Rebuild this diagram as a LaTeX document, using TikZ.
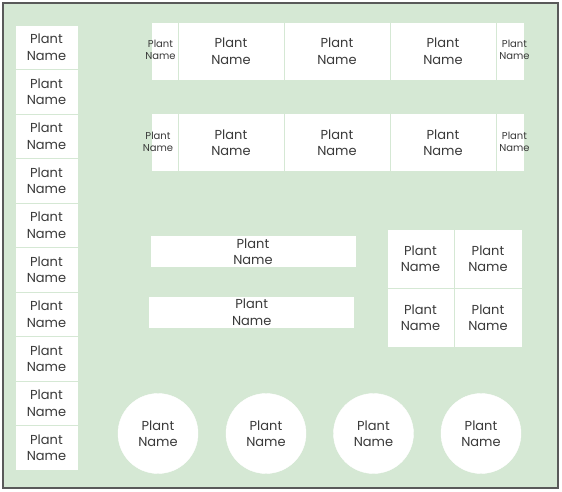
\documentclass[tikz,border=0pt]{standalone}
\usepackage{fontspec}
\setmainfont{Poppins}
\definecolor{bedgreen}{HTML}{D5E8D4}
\definecolor{framegray}{HTML}{595959}
\definecolor{txtgray}{HTML}{3A3A3A}
\begin{document}
\begin{tikzpicture}[x=1pt,y=-1pt,
  cell/.style={rectangle, draw=bedgreen, fill=white, line width=0.8pt, inner sep=0pt},
  lbl/.style={align=center, inner sep=0pt, text=txtgray, font=\fontsize{13}{16.5}\selectfont},
  slbl/.style={align=center, inner sep=0pt, text=txtgray, font=\fontsize{10}{12.5}\selectfont},
  pot/.style={circle, fill=white, draw=white, minimum size=80pt, inner sep=0pt}]
\useasboundingbox (0,0) rectangle (562,491);
\node[rectangle, draw=framegray, fill=bedgreen, line width=2.5pt, minimum width=555pt, minimum height=485pt, inner sep=0pt] (garden) at (280.5,245.5) {};
% left column
\foreach \i in {0,...,9}{
  \node[cell, lbl, minimum width=63pt, minimum height=44.5pt] (L\i) at (46.5,{47.25+44.5*\i}) {Plant\\Name};
}
% top rows
\foreach \r/\y in {1/51, 2/142.5}{
  \node[cell, minimum width=27pt, minimum height=58pt] (R\r a) at (164.5,\y) {};
  \node[cell, lbl, minimum width=106pt, minimum height=58pt] (R\r b) at (231,\y) {Plant\\Name};
  \node[cell, lbl, minimum width=106pt, minimum height=58pt] (R\r c) at (337,\y) {Plant\\Name};
  \node[cell, lbl, minimum width=106pt, minimum height=58pt] (R\r d) at (443,\y) {Plant\\Name};
  \node[cell, minimum width=28pt, minimum height=58pt] (R\r e) at (510,\y) {};
}
\node[slbl] (t1a) at (160.5,50) {Plant\\Name};
\node[slbl] (t1e) at (514.5,50) {Plant\\Name};
\node[slbl] (t2a) at (158,142) {Plant\\Name};
\node[slbl] (t2e) at (514.5,142) {Plant\\Name};
% middle beds
\node[cell, lbl, minimum width=206pt, minimum height=32pt] (M1) at (253,251.7) {Plant\\Name};
\node[cell, lbl, minimum width=206pt, minimum height=32pt] (M2) at (251.7,312) {Plant\\Name};
% 2x2 grid
\node[cell, lbl, minimum width=67pt, minimum height=59pt] (G1) at (420.5,258.5) {Plant\\Name};
\node[cell, lbl, minimum width=68pt, minimum height=59pt] (G2) at (488,258.5) {Plant\\Name};
\node[cell, lbl, minimum width=67pt, minimum height=59pt] (G3) at (420.5,317.5) {Plant\\Name};
\node[cell, lbl, minimum width=68pt, minimum height=59pt] (G4) at (488,317.5) {Plant\\Name};
% pots
\node[pot, lbl] (P1) at (158,433.5) {Plant\\Name};
\node[pot, lbl] (P2) at (266,433.5) {Plant\\Name};
\node[pot, lbl] (P3) at (373.5,433.5) {Plant\\Name};
\node[pot, lbl] (P4) at (481,433.5) {Plant\\Name};
\end{tikzpicture}
\end{document}
